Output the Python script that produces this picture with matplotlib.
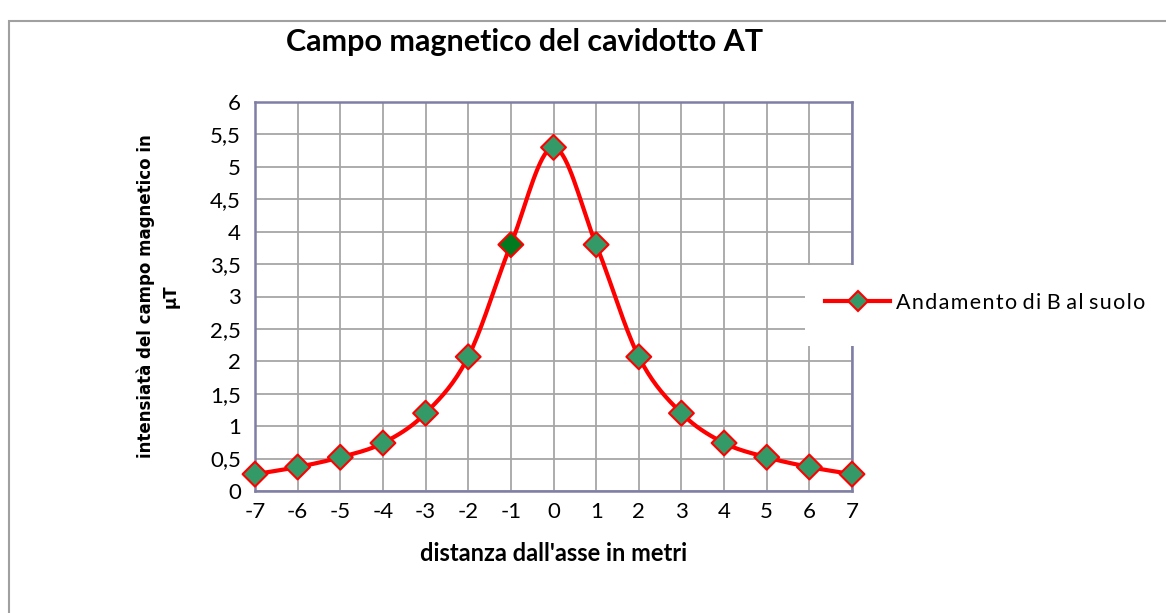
import numpy as np
import matplotlib
matplotlib.use("Agg")
import matplotlib.pyplot as plt
from matplotlib.patches import Rectangle
from matplotlib.lines import Line2D

# distance from axis (m) and field at ground level (uT)
distanza = [-7, -6, -5, -4, -3, -2, -1, 0, 1, 2, 3, 4, 5, 6, 7]
campo_B = [0.26, 0.37, 0.52, 0.74, 1.2, 2.07, 3.8, 5.3, 3.8, 2.07, 1.2, 0.74, 0.52, 0.37, 0.26]
y_ticks = [0, 0.5, 1, 1.5, 2, 2.5, 3, 3.5, 4, 4.5, 5, 5.5, 6]
y_labels = ["0", "0,5", "1", "1,5", "2", "2,5", "3", "3,5", "4", "4,5", "5", "5,5", "6"]


def smooth(x, y, n=20):
    # Catmull-Rom curve like Excel "smoothed line"
    x = np.asarray(x, float)
    y = np.asarray(y, float)
    px = np.concatenate([[x[0]], x, [x[-1]]])
    py = np.concatenate([[y[0]], y, [y[-1]]])
    xs, ys = [], []
    t = np.linspace(0, 1, n)
    for i in range(1, len(px) - 2):
        for p, out in ((px, xs), (py, ys)):
            p0, p1, p2, p3 = p[i - 1], p[i], p[i + 1], p[i + 2]
            out.extend(0.5 * (2 * p1 + (-p0 + p2) * t
                              + (2 * p0 - 5 * p1 + 4 * p2 - p3) * t ** 2
                              + (-p0 + 3 * p1 - 3 * p2 + p3) * t ** 3))
    return xs, ys


fig = plt.figure(figsize=(11.66, 6.13), dpi=100)
ax = fig.add_axes([255 / 1166, 1 - 491 / 613, 597 / 1166, 389 / 613])

sx, sy = smooth(distanza, campo_B)
ax.plot(sx, sy, color="red", lw=3, zorder=3, solid_capstyle="round")
colori = ["#339966"] * len(distanza)
colori[6] = "#007a1f"
ax.scatter(distanza, campo_B, marker="D", s=160, c=colori, edgecolors="red",
           linewidths=1.5, zorder=4, clip_on=False)

ax.set_xlim(-7, 7)
ax.set_ylim(0, 6)
ax.set_xticks(distanza)
ax.set_xticklabels([str(d) for d in distanza])
ax.set_yticks(y_ticks)
ax.set_yticklabels(y_labels)
ax.tick_params(length=0, labelsize=16, pad=10)
ax.tick_params(axis="x", pad=8)
for lab in ax.get_xticklabels() + ax.get_yticklabels():
    lab.set_family("Lato")
ax.grid(True, color="#a6a6a6", lw=1.3)
ax.set_axisbelow(True)
for s in ax.spines.values():
    s.set_color("#7f7fa6")
    s.set_linewidth(1.8)

ax.set_xlabel("distanza dall'asse in metri", family="Lato", fontsize=17,
              fontweight="bold", labelpad=14)
ax.set_ylabel("intensiatà del campo magnetico in\nµT", fontsize=12,
              fontweight="bold", labelpad=22, linespacing=1.5)
fig.text(525 / 1166, 1 - 42 / 613, "Campo magnetico del cavidotto AT",
         family="Lato", fontsize=22, fontweight="bold", ha="center", va="center")

# white legend box overlapping the plot edge
fig.patches.append(Rectangle((805 / 1166, 1 - 346 / 613), 361 / 1166, 81 / 613,
                             transform=fig.transFigure, facecolor="white",
                             edgecolor="none", zorder=5))
handle = Line2D([], [], color="red", lw=3, marker="D", markersize=10,
                markerfacecolor="#339966", markeredgecolor="red", markeredgewidth=1.5)
leg = fig.legend([handle], ["A n d a m e n t o  d i  B  a l  s u o l o".replace(" ", "\u200a").replace("\u200a\u200a", " ")],
                 loc="center left",
                 bbox_to_anchor=(806 / 1166, 1 - 303 / 613), frameon=False,
                 prop={"family": "Lato", "size": 15.5}, handlelength=3.0,
                 handletextpad=0.3)
leg.set_zorder(6)

# outer chart border (only top and left are inside the picture)
fig.patches.append(Rectangle((9 / 1166, -0.05), 1.2, 1.05 - 21 / 613,
                             transform=fig.transFigure, facecolor="none",
                             edgecolor="#a0a0a0", lw=1.5, zorder=7))

fig.savefig("out.png", dpi=100)
